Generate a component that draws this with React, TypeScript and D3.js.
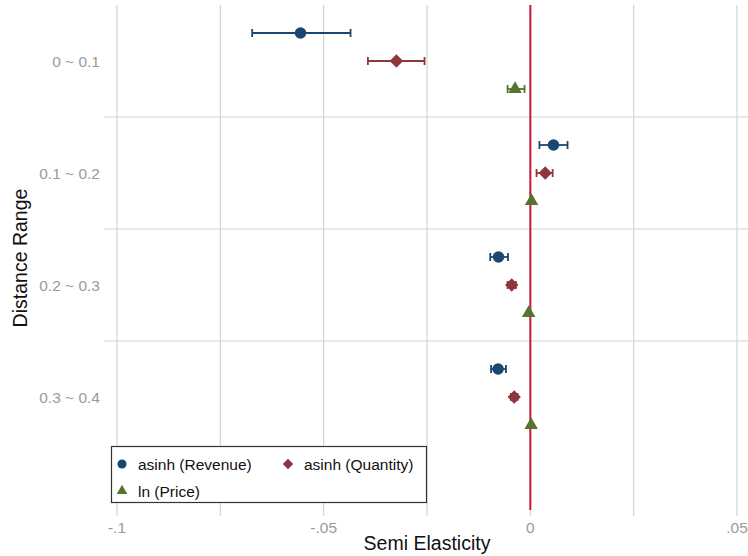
import React, { useEffect, useRef } from 'react';
import * as d3 from 'd3';

// distance bands (top to bottom)
const ranges = ['0 ~ 0.1', '0.1 ~ 0.2', '0.2 ~ 0.3', '0.3 ~ 0.4'];

// point estimate, lower CI, upper CI per band
const revenue = [
  [-0.0556, -0.0673, -0.0435],
  [0.0056, 0.0022, 0.009],
  [-0.0077, -0.0097, -0.0054],
  [-0.0078, -0.0095, -0.0059],
];
const quantity = [
  [-0.0324, -0.0393, -0.0256],
  [0.0036, 0.0015, 0.0054],
  [-0.0045, -0.0055, -0.0035],
  [-0.0039, -0.0047, -0.0031],
];
const price = [
  [-0.0037, -0.0055, -0.0014],
  [0.0003, 0.0001, 0.0005],
  [-0.0004, -0.0006, -0.0002],
  [0.0002, 0.0, 0.0004],
];

const xTicks = [-0.1, -0.05, 0, 0.05];
const xGrid = [-0.1, -0.075, -0.05, -0.025, 0, 0.025, 0.05];

const series = [
  { name: 'asinh (Revenue)', data: revenue, color: '#1a476f', shape: 'circle', offset: -0.25 },
  { name: 'asinh (Quantity)', data: quantity, color: '#90353b', shape: 'diamond', offset: 0 },
  { name: 'ln (Price)', data: price, color: '#55752f', shape: 'triangle', offset: 0.25 },
];

const W = 748, H = 556;
const FONT = '"Liberation Sans", Arial, Helvetica, sans-serif';

function marker(shape: string, size: number) {
  if (shape === 'circle') return d3.symbol().type(d3.symbolCircle).size(size)();
  if (shape === 'diamond') return d3.symbol().type(d3.symbolSquare).size(size * 0.85)();
  return d3.symbol().type(d3.symbolTriangle).size(size * 0.75)();
}

export default function App() {
  const ref = useRef<SVGSVGElement>(null);

  useEffect(() => {
    const svg = d3.select(ref.current);
    svg.selectAll('*').remove();

    const x = d3.scaleLinear().domain([-0.1, 0.05]).range([117, 737]);
    const y = d3.scaleLinear().domain([0.5, 5]).range([5, 509]);

    // vertical grid
    svg.append('g').selectAll('line').data(xGrid).enter().append('line')
      .attr('x1', d => x(d)).attr('x2', d => x(d))
      .attr('y1', 5).attr('y2', 516)
      .attr('stroke', '#d4d4d4').attr('stroke-width', 1.2);

    // horizontal band separators
    svg.append('g').selectAll('line').data([1.5, 2.5, 3.5]).enter().append('line')
      .attr('x1', 104).attr('x2', W)
      .attr('y1', d => y(d)).attr('y2', d => y(d))
      .attr('stroke', '#d4d4d4').attr('stroke-width', 1.2);

    // zero line
    svg.append('line')
      .attr('x1', x(0)).attr('x2', x(0)).attr('y1', 5).attr('y2', 510)
      .attr('stroke', '#c8173d').attr('stroke-width', 2);

    // x tick labels (Stata style: -.1, -.05, 0, .05)
    svg.append('g').selectAll('text').data(xTicks).enter().append('text')
      .attr('x', d => x(d)).attr('y', 533)
      .attr('text-anchor', 'middle')
      .style('font-family', FONT).style('font-size', '15.5px').style('fill', '#9a9a9a')
      .text(d => String(d).replace('0.', '.'));

    // y tick labels
    svg.append('g').selectAll('text').data(ranges).enter().append('text')
      .attr('x', 100).attr('y', (d, i) => y(i + 1) + 6)
      .attr('text-anchor', 'end')
      .style('font-family', FONT).style('font-size', '15.5px').style('fill', '#9a9a9a')
      .text(d => d);

    // axis titles
    svg.append('text')
      .attr('x', 427).attr('y', 550).attr('text-anchor', 'middle')
      .style('font-family', FONT).style('font-size', '19.5px').style('fill', '#111')
      .text('Semi Elasticity');
    svg.append('text')
      .attr('transform', 'translate(27,' + 258 + ') rotate(-90)')
      .attr('text-anchor', 'middle')
      .style('font-family', FONT).style('font-size', '19.5px').style('fill', '#111')
      .text('Distance Range');

    // error bars + markers
    series.forEach(s => {
      const g = svg.append('g');
      const rows = s.data.map((d, i) => ({ est: d[0], lo: d[1], hi: d[2], yy: y(i + 1 + s.offset) }));
      g.selectAll('line.ci').data(rows).enter().append('line')
        .attr('x1', d => x(d.lo)).attr('x2', d => x(d.hi))
        .attr('y1', d => d.yy).attr('y2', d => d.yy)
        .attr('stroke', s.color).attr('stroke-width', 1.8);
      ['lo', 'hi'].forEach(k => {
        g.selectAll('line.cap' + k).data(rows).enter().append('line')
          .attr('x1', (d: any) => x(d[k])).attr('x2', (d: any) => x(d[k]))
          .attr('y1', d => d.yy - 4).attr('y2', d => d.yy + 4)
          .attr('stroke', s.color).attr('stroke-width', 1.8);
      });
      g.selectAll('path').data(rows).enter().append('path')
        .attr('d', marker(s.shape, 105))
        .attr('transform', d => 'translate(' + x(d.est) + ',' + d.yy + ')' + (s.shape === 'diamond' ? ' rotate(45)' : ''))
        .attr('fill', s.color);
    });

    // legend
    const lg = svg.append('g');
    lg.append('rect')
      .attr('x', 111.5).attr('y', 446.5).attr('width', 315).attr('height', 56)
      .attr('fill', '#fff').attr('stroke', '#333').attr('stroke-width', 1.2);
    const pos = [[122, 464], [288, 464], [122, 491]];
    series.forEach((s, i) => {
      lg.append('path')
        .attr('d', marker(s.shape, 65))
        .attr('transform', 'translate(' + pos[i][0] + ',' + pos[i][1] + ')' + (s.shape === 'diamond' ? ' rotate(45)' : ''))
        .attr('fill', s.color);
      lg.append('text')
        .attr('x', pos[i][0] + 16).attr('y', pos[i][1] + 5.5)
        .style('font-family', FONT).style('font-size', '15.5px').style('fill', '#111')
        .text(s.name);
    });
  }, []);

  return (
    <div style={{ position: 'absolute', left: 0, top: 0 }}>
      <svg ref={ref} width={W} height={H} style={{ display: 'block', background: '#fff' }} />
    </div>
  );
}
